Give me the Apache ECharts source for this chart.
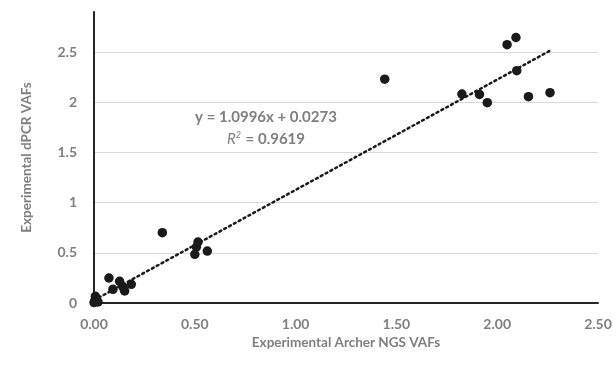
<!DOCTYPE html>
<html>
<head>
<meta charset="utf-8">
<script src="https://cdn.jsdelivr.net/npm/echarts@6/dist/echarts.min.js"></script>
<style>
  html, body { margin: 0; padding: 0; background: #fff; }
  #chart { width: 616px; height: 368px; }
</style>
</head>
<body>
<div id="chart"></div>
<script>
// VAF values
var archerNgs = [0.000, 0.005, 0.020, 0.007, 0.012, 0.074, 0.094, 0.127, 0.144, 0.152, 0.185,
  0.339, 0.500, 0.508, 0.516, 0.562, 1.442, 1.825, 1.912, 1.951, 2.049, 2.093, 2.097, 2.155, 2.262];
var dpcr = [0.004, 0.027, 0.010, 0.067, 0.040, 0.249, 0.136, 0.216, 0.159, 0.120, 0.186,
  0.701, 0.485, 0.558, 0.608, 0.518, 2.231, 2.082, 2.079, 1.996, 2.574, 2.646, 2.315, 2.056, 2.096];

// linear trendline as printed on the chart
var slope = 1.0996;
var intercept = 0.0273;
var rSquared = '0.9619';

var xTicks = [0, 0.5, 1, 1.5, 2, 2.5];
var yTicks = [0, 0.5, 1, 1.5, 2, 2.5];

var points = [];
for (var i = 0; i < archerNgs.length; i++) {
  points.push([archerNgs[i], dpcr[i]]);
}
var xMin = Math.min.apply(null, archerNgs);
var xMax = Math.max.apply(null, archerNgs);
var trend = [[xMin, slope * xMin + intercept], [xMax, slope * xMax + intercept]];

var grey = '#7f7f7f';
var font = 'Lato';

var chart = echarts.init(document.getElementById('chart'));

var option = {
  animation: false,
  grid: { left: 94, right: 18, top: 12, bottom: 65 },
  xAxis: {
    type: 'value',
    min: xTicks[0],
    max: xTicks[xTicks.length - 1],
    interval: 0.5,
    name: 'Experimental Archer NGS VAFs',
    nameLocation: 'middle',
    nameGap: 33,
    nameTextStyle: { color: grey, fontFamily: font, fontWeight: 'bold', fontSize: 13.5 },
    axisLine: { show: true, onZero: false, lineStyle: { color: '#262626', width: 2 } },
    axisTick: { show: false },
    splitLine: { show: false },
    axisLabel: {
      color: grey, fontFamily: font, fontWeight: 'bold', fontSize: 14, margin: 14,
      formatter: function (v) { return v.toFixed(2); }
    }
  },
  yAxis: {
    type: 'value',
    min: yTicks[0],
    max: 2.9,
    interval: 0.5,
    name: 'Experimental dPCR VAFs',
    nameLocation: 'middle',
    nameGap: 60,
    nameTextStyle: { color: grey, fontFamily: font, fontWeight: 'bold', fontSize: 13.5 },
    axisLine: { show: true, onZero: false, lineStyle: { color: '#262626', width: 2 } },
    axisTick: { show: false },
    splitLine: { show: true, showMinLine: false, showMaxLine: false, lineStyle: { color: '#d9d9d9', width: 1 } },
    axisLabel: {
      color: grey, fontFamily: font, fontWeight: 'bold', fontSize: 14, margin: 17,
      showMaxLabel: false,
      formatter: function (v) { return yTicks.indexOf(v) >= 0 ? String(v) : ''; }
    }
  },
  series: [
    {
      type: 'line',
      data: trend,
      symbol: 'none',
      silent: true,
      lineStyle: { color: '#1a1a1a', width: 2.5, type: [2, 3.5], cap: 'round' },
      z: 1
    },
    {
      type: 'scatter',
      data: points,
      symbolSize: 9.5,
      itemStyle: { color: '#1a1a1a', opacity: 1 },
      z: 2
    }
  ],
  graphic: [
    {
      type: 'text',
      x: 266,
      y: 117,
      style: {
        text: 'y = ' + slope + 'x + ' + intercept,
        fill: grey,
        font: 'bold 15px Lato',
        align: 'center',
        verticalAlign: 'middle'
      }
    },
    {
      type: 'text',
      x: 266,
      y: 139,
      style: {
        text: '{i|R}{s|2}{n| = ' + rSquared + '}',
        align: 'center',
        verticalAlign: 'middle',
        rich: {
          i: { fill: grey, fontFamily: font, fontStyle: 'italic', fontSize: 15 },
          s: { fill: grey, fontFamily: font, fontStyle: 'italic', fontSize: 9, verticalAlign: 'top', padding: [0, 1, 7, 0] },
          n: { fill: grey, fontFamily: font, fontWeight: 'bold', fontSize: 15 }
        }
      }
    }
  ]
};

chart.setOption(option);
</script>
</body>
</html>
